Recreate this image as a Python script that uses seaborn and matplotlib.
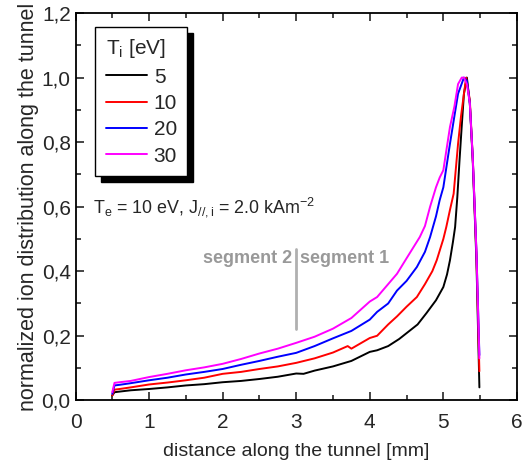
import numpy as np
import pandas as pd
import matplotlib
matplotlib.use("Agg")
import matplotlib.pyplot as plt
import seaborn as sns
from matplotlib.ticker import MultipleLocator, FuncFormatter

# ---- data ----
x_T5 = [0.5, 0.53, 0.6, 0.75, 1.0, 1.25, 1.5, 1.75, 2.0, 2.25, 2.5, 2.75, 3.0, 3.1, 3.25, 3.5, 3.75, 4.0, 4.1, 4.25, 4.4, 4.55, 4.65, 4.77, 4.9, 5.0, 5.05, 5.09, 5.13, 5.16, 5.19, 5.22, 5.25, 5.28, 5.32, 5.36, 5.40, 5.45, 5.49]
y_T5 = [0.015, 0.025, 0.027, 0.031, 0.035, 0.040, 0.046, 0.050, 0.056, 0.060, 0.066, 0.073, 0.083, 0.082, 0.092, 0.105, 0.122, 0.150, 0.155, 0.168, 0.190, 0.217, 0.235, 0.270, 0.310, 0.351, 0.390, 0.434, 0.490, 0.537, 0.630, 0.744, 0.850, 0.950, 1.0, 0.92, 0.74, 0.43, 0.04]

x_T10 = [0.5, 0.53, 0.6, 0.75, 1.0, 1.25, 1.5, 1.75, 2.0, 2.25, 2.5, 2.75, 3.0, 3.25, 3.5, 3.7, 3.75, 4.0, 4.1, 4.25, 4.37, 4.5, 4.64, 4.75, 4.85, 4.91, 5.0, 5.04, 5.09, 5.14, 5.2, 5.24, 5.28, 5.31, 5.36, 5.40, 5.45, 5.49]
y_T10 = [0.015, 0.033, 0.035, 0.040, 0.049, 0.055, 0.062, 0.070, 0.082, 0.088, 0.097, 0.105, 0.116, 0.130, 0.148, 0.168, 0.160, 0.193, 0.200, 0.235, 0.260, 0.290, 0.320, 0.360, 0.400, 0.434, 0.500, 0.537, 0.590, 0.640, 0.795, 0.880, 0.950, 1.0, 0.93, 0.75, 0.45, 0.09]

x_T20 = [0.5, 0.53, 0.6, 0.75, 1.0, 1.25, 1.5, 1.75, 2.0, 2.25, 2.5, 2.75, 3.0, 3.25, 3.5, 3.75, 4.0, 4.1, 4.25, 4.37, 4.5, 4.64, 4.75, 4.82, 4.9, 4.95, 5.0, 5.09, 5.15, 5.20, 5.28, 5.32, 5.36, 5.40, 5.45, 5.49]
y_T20 = [0.020, 0.046, 0.048, 0.053, 0.062, 0.070, 0.080, 0.088, 0.097, 0.110, 0.122, 0.135, 0.147, 0.168, 0.192, 0.215, 0.250, 0.274, 0.300, 0.340, 0.370, 0.413, 0.460, 0.506, 0.570, 0.620, 0.660, 0.795, 0.880, 0.950, 1.0, 0.99, 0.92, 0.75, 0.46, 0.14]

x_T30 = [0.5, 0.53, 0.6, 0.75, 1.0, 1.25, 1.5, 1.75, 2.0, 2.25, 2.5, 2.75, 3.0, 3.25, 3.5, 3.75, 4.0, 4.1, 4.25, 4.37, 4.5, 4.68, 4.75, 4.82, 4.9, 4.95, 5.0, 5.09, 5.15, 5.20, 5.25, 5.28, 5.32, 5.36, 5.40, 5.45, 5.49]
y_T30 = [0.025, 0.054, 0.056, 0.060, 0.072, 0.082, 0.093, 0.102, 0.113, 0.128, 0.145, 0.160, 0.178, 0.197, 0.222, 0.255, 0.306, 0.320, 0.360, 0.392, 0.440, 0.506, 0.540, 0.600, 0.660, 0.690, 0.713, 0.847, 0.910, 0.980, 1.0, 1.0, 0.98, 0.92, 0.75, 0.46, 0.13]

series_labels = ["5", "10", "20", "30"]
series_colors = ["#000000", "#ff0000", "#0000ff", "#ff00ff"]

x_ticks = [0, 1, 2, 3, 4, 5, 6]
y_ticks = [0.0, 0.2, 0.4, 0.6, 0.8, 1.0, 1.2]

frames = []
for lab, xs, ys in zip(series_labels, [x_T5, x_T10, x_T20, x_T30], [y_T5, y_T10, y_T20, y_T30]):
    frames.append(pd.DataFrame({"x": xs, "y": ys, "Ti": lab}))
df = pd.concat(frames, ignore_index=True)

sns.set_style("ticks")
plt.rcParams['font.family'] = ['Liberation Sans', 'DejaVu Sans']
plt.rcParams['mathtext.fontset'] = 'custom'
plt.rcParams['mathtext.rm'] = 'Liberation Sans'
plt.rcParams['mathtext.it'] = 'Liberation Sans'

fig = plt.figure(figsize=(5.28, 4.66), dpi=100)
ax = fig.add_axes([0.143, 0.141, 0.836, 0.831])

sns.lineplot(data=df, x="x", y="y", hue="Ti", hue_order=series_labels,
             palette=dict(zip(series_labels, series_colors)), sort=False,
             estimator=None, linewidth=1.4, ax=ax)

ax.set_xlim(0, 6)
ax.set_ylim(0, 1.2)
ax.set_xticks(x_ticks)
ax.set_yticks(y_ticks)
ax.xaxis.set_minor_locator(MultipleLocator(0.5))
ax.yaxis.set_minor_locator(MultipleLocator(0.1))
ax.xaxis.set_major_formatter(FuncFormatter(lambda v, p: f"{v:g}"))
ax.yaxis.set_major_formatter(FuncFormatter(lambda v, p: f"{v:.1f}".replace(".", ",")))
ax.tick_params(which="both", direction="in", top=True, right=True, labelsize=15, width=1.2)
ax.tick_params(which="major", length=6)
ax.tick_params(which="minor", length=3.5)
ax.tick_params(axis="x", which="major", pad=9)
for s in ax.spines.values():
    s.set_linewidth(1.3)
    s.set_color("black")

ax.set_xlabel("distance along the tunnel [mm]", fontsize=14, labelpad=8)
ax.set_ylabel("normalized ion distribution along the tunnel", fontsize=15.5, labelpad=2)

leg = ax.legend(title=r"T$_\mathregular{i}$ [eV]", loc="upper left", bbox_to_anchor=(0.045, 0.964),
                borderaxespad=0,
                fontsize=15, title_fontsize=15, frameon=True, fancybox=False,
                shadow={"color": "black", "alpha": 1, "ox": 4, "oy": -4}, handlelength=2.0, borderpad=0.5,
                labelspacing=0.35, handletextpad=0.3)
leg.get_frame().set_edgecolor("black")
leg.get_frame().set_linewidth(1.0)
leg._legend_box.align = "left"

ax.text(0.24, 0.60, r"T$_\mathregular{e}$ = 10 eV, J$_\mathregular{//,i}$ = 2.0 kAm$^\mathregular{-2}$",
        fontsize=12.9, va="center", ha="left")

ax.plot([3, 3], [0.22, 0.47], color="#b0b0b0", linewidth=2)
ax.text(2.95, 0.44, "segment 2", color="#999999", fontsize=13, fontweight="bold", ha="right", va="center")
ax.text(3.05, 0.44, "segment 1", color="#999999", fontsize=13, fontweight="bold", ha="left", va="center")

fig.savefig("out.png", dpi=100)
